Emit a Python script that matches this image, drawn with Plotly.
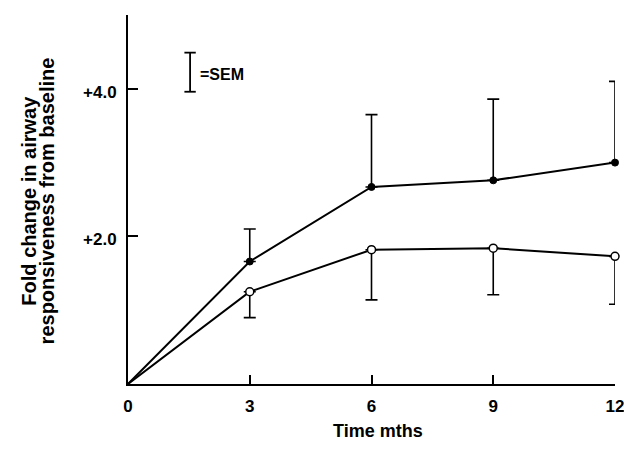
import plotly.graph_objects as go

months = [0, 3, 6, 9, 12]
filled_mean = [0, 1.66, 2.67, 2.76, 3.0]
filled_sem_up = [0, 0.44, 0.98, 1.10, 1.10]
open_mean = [0, 1.25, 1.82, 1.84, 1.73]
open_sem_down = [0, 0.35, 0.68, 0.63, 0.65]

x_ticks = [0, 3, 6, 9, 12]
y_tickvals = [2, 4, 5]
y_ticktext = ["+2.0", "+4.0", ""]

FONT = "Liberation Sans, Arial, Helvetica, sans-serif"

fig = go.Figure()

fig.add_trace(go.Scatter(
    x=months[1:], y=filled_mean[1:], mode="markers",
    marker=dict(size=1, color="rgba(0,0,0,0)"),
    error_y=dict(type="data", symmetric=False, array=filled_sem_up[1:],
                 arrayminus=[0] * 4, color="black", thickness=1.6, width=6),
    showlegend=False, cliponaxis=False, hoverinfo="skip"))
fig.add_trace(go.Scatter(
    x=months[1:], y=open_mean[1:], mode="markers",
    marker=dict(size=1, color="rgba(0,0,0,0)"),
    error_y=dict(type="data", symmetric=False, array=[0] * 4,
                 arrayminus=open_sem_down[1:], color="black", thickness=1.6, width=6),
    showlegend=False, cliponaxis=False, hoverinfo="skip"))

fig.add_trace(go.Scatter(
    x=months, y=filled_mean, mode="lines",
    line=dict(color="black", width=2), showlegend=False, cliponaxis=False))
fig.add_trace(go.Scatter(
    x=months, y=open_mean, mode="lines",
    line=dict(color="black", width=2), showlegend=False, cliponaxis=False))
fig.add_trace(go.Scatter(
    x=months[1:], y=filled_mean[1:], mode="markers",
    marker=dict(size=7, color="black", line=dict(color="black", width=1)),
    showlegend=False, cliponaxis=False))
fig.add_trace(go.Scatter(
    x=months[1:], y=open_mean[1:], mode="markers",
    marker=dict(size=8, color="white", line=dict(color="black", width=1.5)),
    showlegend=False, cliponaxis=False))

# SEM key
sem_x, sem_lo, sem_hi = 1.53, 3.96, 4.49
fig.add_shape(type="line", x0=sem_x, x1=sem_x, y0=sem_lo, y1=sem_hi,
              line=dict(color="black", width=1.8))
for yy in (sem_lo, sem_hi):
    fig.add_shape(type="line", x0=sem_x - 0.14, x1=sem_x + 0.14, y0=yy, y1=yy,
                  line=dict(color="black", width=1.8))
fig.add_annotation(x=sem_x + 0.2, y=(sem_lo + sem_hi) / 2 - 0.03, text="<b>=SEM</b>",
                   showarrow=False, xanchor="left", yanchor="middle",
                   font=dict(family=FONT, size=16, color="black"))

# axis titles
fig.add_annotation(xref="paper", yref="paper", x=0.513, y=-0.127, xanchor="center", yanchor="middle",
                   text="<b>Time mths</b>", showarrow=False,
                   font=dict(family=FONT, size=18, color="black"))
for xpos, line_text in ((-0.204, "Fold change in airway"), (-0.1655, "responsiveness from baseline")):
    fig.add_annotation(xref="paper", yref="paper", x=xpos, y=0.496, xanchor="center", yanchor="middle",
                       text="<b>%s</b>" % line_text, textangle=-90, showarrow=False,
                       font=dict(family=FONT, size=20, color="black"))

fig.update_xaxes(range=[0, 12], tickvals=x_ticks, ticktext=["<b>%d</b>" % v for v in x_ticks],
                 showline=True, linecolor="black", linewidth=2,
                 ticks="inside", ticklen=9, tickwidth=1.5, tickcolor="black",
                 showgrid=False, zeroline=False, automargin=False,
                 ticklabeloverflow="allow", ticklabelstandoff=6,
                 tickfont=dict(family=FONT, size=17, color="black"))
fig.update_yaxes(range=[0, 5], tickvals=y_tickvals, ticktext=["<b>%s</b>" % t for t in y_ticktext],
                 showline=True, linecolor="black", linewidth=2,
                 ticks="inside", ticklen=10, tickwidth=1.5, tickcolor="black",
                 showgrid=False, zeroline=False, automargin=False,
                 ticklabelstandoff=6, ticklabelshift=3,
                 tickfont=dict(family=FONT, size=17, color="black"))

fig.update_layout(width=624, height=456, plot_bgcolor="white", paper_bgcolor="white",
                  margin=dict(l=128, r=9, t=15, b=72), showlegend=False)

fig.write_html("out.html", config={"displayModeBar": False},
               post_script="document.body.style.margin='0';document.body.style.overflow='hidden';")
